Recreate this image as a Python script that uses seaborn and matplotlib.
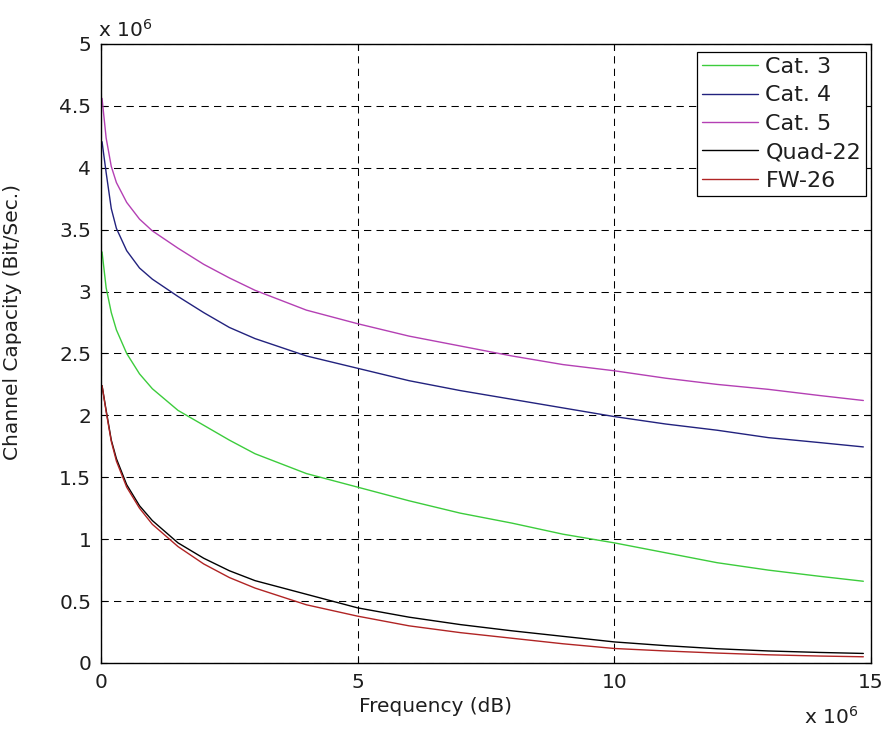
import matplotlib
matplotlib.use("Agg")
import matplotlib.pyplot as plt
from matplotlib.ticker import FuncFormatter
import seaborn as sns
import pandas as pd
import numpy as np

# Frequency (units of 1e6) and channel capacity (units of 1e6 bit/s) per cable type
freq = [0.02, 0.1, 0.2, 0.3, 0.5, 0.75, 1, 1.5, 2, 2.5, 3, 4, 5, 6, 7, 8, 9, 10, 11, 12, 13, 14, 14.85]
cat3 = [3.32, 3.03, 2.83, 2.69, 2.50, 2.335, 2.215, 2.04, 1.92, 1.80, 1.69, 1.53, 1.42, 1.31, 1.21,
        1.13, 1.04, 0.97, 0.89, 0.81, 0.75, 0.70, 0.66]
cat4 = [4.21, 3.96, 3.67, 3.51, 3.33, 3.19, 3.10, 2.96, 2.83, 2.71, 2.62, 2.48, 2.38, 2.28, 2.20,
        2.13, 2.06, 1.99, 1.93, 1.88, 1.82, 1.78, 1.745]
cat5 = [4.56, 4.24, 4.01, 3.88, 3.72, 3.585, 3.49, 3.35, 3.22, 3.11, 3.01, 2.85, 2.74, 2.64, 2.56,
        2.48, 2.41, 2.36, 2.30, 2.25, 2.21, 2.16, 2.12]
quad22 = [2.24, 2.04, 1.80, 1.65, 1.44, 1.27, 1.15, 0.97, 0.846, 0.745, 0.665, 0.555, 0.445, 0.37,
          0.31, 0.26, 0.215, 0.17, 0.14, 0.115, 0.097, 0.085, 0.077]
fw26 = [2.24, 2.03, 1.79, 1.63, 1.42, 1.25, 1.12, 0.94, 0.80, 0.69, 0.605, 0.47, 0.378, 0.30,
        0.245, 0.20, 0.155, 0.117, 0.097, 0.080, 0.066, 0.056, 0.050]

labels = ["Cat. 3", "Cat. 4", "Cat. 5", "Quad-22", "FW-26"]
colors = ["#3ccc3c", "#22227e", "#b440b4", "#000000", "#b02424"]
x_ticks = [0, 5, 10, 15]
y_ticks = [0, 0.5, 1, 1.5, 2, 2.5, 3, 3.5, 4, 4.5, 5]

series = [cat3, cat4, cat5, quad22, fw26]
df = pd.DataFrame({
    "freq": freq * len(series),
    "cap": [v for s in series for v in s],
    "cable": np.repeat(labels, len(freq)),
})

sns.set_theme(style="ticks")
plt.rcParams["font.family"] = ["DejaVu Sans"]
FS = 14.5
TXT = "#1e1e1e"

fig = plt.figure(figsize=(8.9, 7.32), dpi=100)
ax = fig.add_axes([0.1135, 0.0943, 0.8652, 0.8457])

sns.lineplot(data=df, x="freq", y="cap", hue="cable", hue_order=labels,
             palette=dict(zip(labels, colors)), estimator=None, sort=False,
             lw=1.0, ax=ax)

ax.set_xlim(0, 15)
ax.set_ylim(0, 5)
ax.set_xticks(x_ticks)
ax.set_yticks(y_ticks)
fmt = FuncFormatter(lambda v, p: f"{v:g}")
ax.xaxis.set_major_formatter(fmt)
ax.yaxis.set_major_formatter(fmt)

ax.grid(True, color="black", ls=(0, (7, 5)), lw=0.75)
ax.tick_params(direction="in", length=4, width=0.8, top=True, right=True,
               labelsize=FS, pad=7, colors="black", labelcolor=TXT)
for s in ax.spines.values():
    s.set_visible(True)
    s.set_color("black")
    s.set_linewidth(1.0)

ax.set_xlabel("Frequency (dB)", fontsize=FS, color=TXT)
ax.set_ylabel("Channel Capacity (Bit/Sec.)", fontsize=FS, color=TXT)
ax.xaxis.set_label_coords(0.434, -0.055)
ax.yaxis.set_label_coords(-0.1026, 0.551)

# axis scale factors
ax.text(-0.004, 1.0226, r"x 10$^{6}$", transform=ax.transAxes, ha="left", va="center",
        fontsize=FS, color=TXT)
ax.text(0.983, -0.087, r"x 10$^{6}$", transform=ax.transAxes, ha="right", va="center",
        fontsize=FS, color=TXT)

LFS = 16
handles, lbls = ax.get_legend_handles_labels()
leg = ax.legend(handles, lbls, loc="upper right", bbox_to_anchor=(0.9935, 0.987),
                frameon=True, fancybox=False, edgecolor="black", framealpha=1,
                borderpad=0.22, labelspacing=0.38, handlelength=2.5, handletextpad=0.35,
                borderaxespad=0, fontsize=LFS)
leg.get_frame().set_linewidth(0.9)
for t in leg.get_texts():
    t.set_color(TXT)

fig.savefig("out.png", dpi=100)
